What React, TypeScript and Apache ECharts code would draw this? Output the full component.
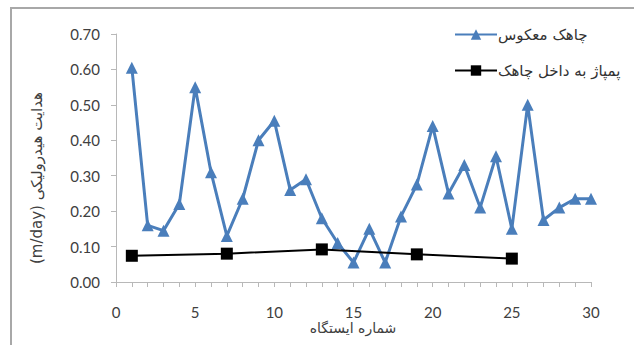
import React, { useEffect, useRef } from "react";
import * as echarts from "echarts";

const stations = [1,2,3,4,5,6,7,8,9,10,11,12,13,14,15,16,17,18,19,20,21,22,23,24,25,26,27,28,29,30];
const reverseWell = [0.605,0.16,0.145,0.22,0.55,0.31,0.13,0.235,0.40,0.455,0.26,0.29,0.18,0.11,0.055,0.15,0.055,0.185,0.275,0.44,0.25,0.33,0.21,0.355,0.15,0.50,0.175,0.21,0.235,0.235];
const pumpStations = [1,7,13,19,25];
const pumpInto = [0.074,0.080,0.092,0.078,0.066];

const seriesNames = ["چاهک معکوس", "پمپاژ به داخل چاهک"];
const xTitle = "شماره ایستگاه";
const yTitle = "(m/day) هدایت هیدرولیکی";

export default function App() {
  const ref = useRef<HTMLDivElement>(null);
  useEffect(() => {
    const chart = echarts.init(ref.current!, null, { renderer: "svg" });
    const font = "Lato, 'DejaVu Sans', sans-serif";
    chart.setOption({
      animation: false,
      backgroundColor: "#ffffff",
      textStyle: { fontFamily: font },
      grid: { left: 116, right: 43, top: 34, bottom: 63 },
      legend: {
        orient: "vertical",
        left: 449,
        top: 22,
        itemWidth: 42,
        itemHeight: 13,
        itemGap: 21,
        textStyle: { fontSize: 15, color: "#333", fontFamily: "'DejaVu Sans', sans-serif", padding: [0, 0, 0, -4] },
        data: seriesNames,
      },
      xAxis: {
        type: "value",
        min: 0,
        max: 30,
        interval: 5,
        axisLine: { lineStyle: { color: "#b8b8b8", width: 1 } },
        axisTick: { show: true, length: 5, lineStyle: { color: "#b8b8b8" } },
        minorTick: { show: true, splitNumber: 5, length: 5, lineStyle: { color: "#b8b8b8" } },
        splitLine: { show: false },
        axisLabel: { fontSize: 15, color: "#404040", margin: 22, fontFamily: font },
      },
      yAxis: {
        type: "value",
        min: 0,
        max: 0.7,
        interval: 0.1,
        axisLine: { show: true, lineStyle: { color: "#b8b8b8", width: 1 } },
        axisTick: { show: true, length: 5, lineStyle: { color: "#b8b8b8" } },
        splitLine: { show: false },
        axisLabel: { fontSize: 15, color: "#404040", margin: 16, fontFamily: font, formatter: (v: number) => v.toFixed(2) },
      },
      graphic: [
        { type: "line", shape: { x1: 10, y1: 8, x2: 634, y2: 8 }, style: { stroke: "#a8a8a8", lineWidth: 2 } },
        { type: "line", shape: { x1: 11, y1: 7, x2: 11, y2: 345 }, style: { stroke: "#a8a8a8", lineWidth: 2 } },
        {
          type: "text",
          x: 353,
          y: 328,
          style: { text: xTitle, fontSize: 14, fill: "#404040", align: "center", verticalAlign: "middle", fontFamily: "'DejaVu Sans', sans-serif" },
        },
        {
          type: "text",
          x: 37,
          y: 178,
          rotation: Math.PI / 2,
          style: { text: yTitle, fontSize: 15, fill: "#404040", align: "center", verticalAlign: "middle", fontFamily: "'DejaVu Sans', sans-serif" },
        },
      ],
      series: [
        {
          name: seriesNames[0],
          type: "line",
          data: stations.map((s, i) => [s, reverseWell[i]]),
          symbol: "triangle",
          symbolSize: 12,
          lineStyle: { color: "#4a7ebb", width: 3 },
          itemStyle: { color: "#4a7ebb" },
          z: 2,
        },
        {
          name: seriesNames[1],
          type: "line",
          data: pumpStations.map((s, i) => [s, pumpInto[i]]),
          symbol: "rect",
          symbolSize: 12,
          lineStyle: { color: "#000000", width: 2 },
          itemStyle: { color: "#000000" },
          z: 3,
        },
      ],
    });
    return () => chart.dispose();
  }, []);
  return <div ref={ref} style={{ position: "fixed", left: 0, top: 0, width: 634, height: 345 }} />;
}
